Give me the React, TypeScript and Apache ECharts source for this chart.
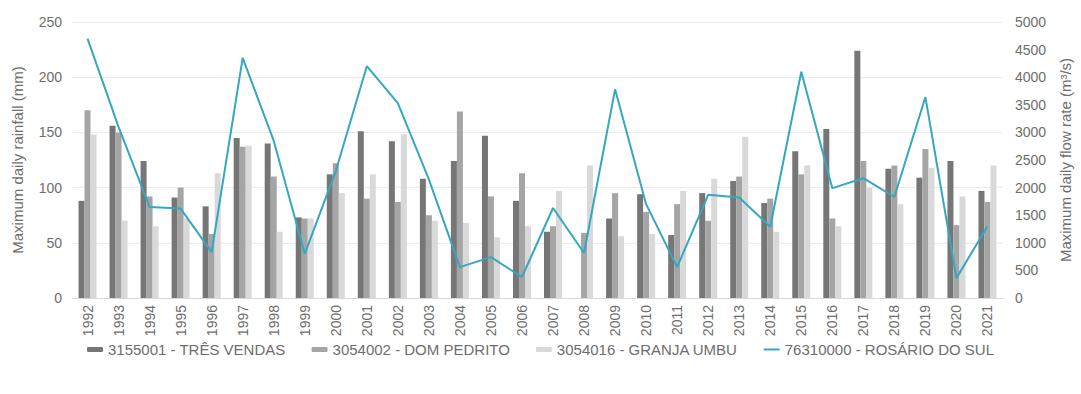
import React, { useEffect, useRef } from "react";
import * as echarts from "echarts";

const years = ["1992","1993","1994","1995","1996","1997","1998","1999","2000","2001","2002","2003","2004","2005","2006","2007","2008","2009","2010","2011","2012","2013","2014","2015","2016","2017","2018","2019","2020","2021"];
const tresVendas = [88,156,124,91,83,145,140,73,112,151,142,108,124,147,88,60,null,72,94,57,95,106,86,133,153,224,117,109,124,97];
const domPedrito = [170,150,92,100,58,137,110,72,122,90,87,75,169,92,113,65,59,95,78,85,70,110,90,112,72,124,120,135,66,87];
const granjaUmbu = [148,70,65,72,113,138,60,72,95,112,148,70,68,55,65,97,120,56,58,97,108,146,60,120,65,100,85,118,92,120];
const rosarioDoSul = [4700,3100,1650,1620,830,4350,2850,800,2300,4200,3530,2150,560,740,380,1630,815,3780,1700,560,1870,1820,1290,4100,1990,2170,1830,3640,360,1300];

const leftTicks = [0, 50, 250];
const rightTicks = [0, 500, 5000];

export default function App() {
  const ref = useRef<HTMLDivElement>(null);
  useEffect(() => {
    if (!ref.current) return;
    const chart = echarts.init(ref.current, null, { renderer: "svg" });
    const txt = "#6e6e6e";
    chart.setOption({
      animation: false,
      textStyle: { fontFamily: "Liberation Sans, Arial, sans-serif" },
      grid: { left: 72, right: 76, top: 22, bottom: 96 },
      legend: {
        top: 337,
        left: "center",
        itemWidth: 16,
        itemHeight: 5,
        itemGap: 26,
        textStyle: { color: txt, fontSize: 15 },
        data: [
          { name: "3155001 - TRÊS VENDAS" },
          { name: "3054002 - DOM PEDRITO" },
          { name: "3054016 - GRANJA UMBU" },
          { name: "76310000 - ROSÁRIO DO SUL", icon: "path://M0 0 H16 V2 H0 Z" },
        ],
      },
      xAxis: {
        type: "category",
        data: years,
        axisLine: { lineStyle: { color: "#d9d9d9" } },
        axisTick: { show: false },
        axisLabel: { rotate: 90, color: txt, fontSize: 14, margin: 7 },
      },
      yAxis: [
        {
          type: "value",
          min: leftTicks[0],
          max: leftTicks[2],
          interval: leftTicks[1],
          name: "Maximum daily rainfall (mm)",
          nameLocation: "middle",
          nameGap: 47,
          nameTextStyle: { color: txt, fontSize: 15 },
          axisLabel: { color: txt, fontSize: 14, margin: 10 },
          splitLine: { lineStyle: { color: "#ebebeb" } },
          axisLine: { show: false },
          axisTick: { show: false },
        },
        {
          type: "value",
          min: rightTicks[0],
          max: rightTicks[2],
          interval: rightTicks[1],
          name: "Maximum daily flow rate (m³/s)",
          nameLocation: "middle",
          nameGap: 55,
          nameRotate: 90,
          nameTextStyle: { color: txt, fontSize: 15 },
          axisLabel: { color: txt, fontSize: 14, margin: 12, formatter: (v: number) => String(v) },
          splitLine: { show: false },
          axisLine: { show: false },
          axisTick: { show: false },
        },
      ],
      series: [
        {
          name: "3155001 - TRÊS VENDAS",
          type: "bar",
          data: tresVendas,
          barWidth: 6,
          barGap: "0%",
          itemStyle: { color: "#767676" },
        },
        {
          name: "3054002 - DOM PEDRITO",
          type: "bar",
          data: domPedrito,
          barWidth: 6,
          barGap: "0%",
          itemStyle: { color: "#a5a5a5" },
        },
        {
          name: "3054016 - GRANJA UMBU",
          type: "bar",
          data: granjaUmbu,
          barWidth: 6,
          barGap: "0%",
          itemStyle: { color: "#d9d9d9" },
        },
        {
          name: "76310000 - ROSÁRIO DO SUL",
          type: "line",
          yAxisIndex: 1,
          data: rosarioDoSul,
          symbol: "none",
          lineStyle: { color: "#35a7c0", width: 2 },
          itemStyle: { color: "#35a7c0" },
        },
      ],
    });
    return () => chart.dispose();
  }, []);
  return <div ref={ref} style={{ width: 1081, height: 394, position: "absolute", left: 0, top: 0 }} />;
}
